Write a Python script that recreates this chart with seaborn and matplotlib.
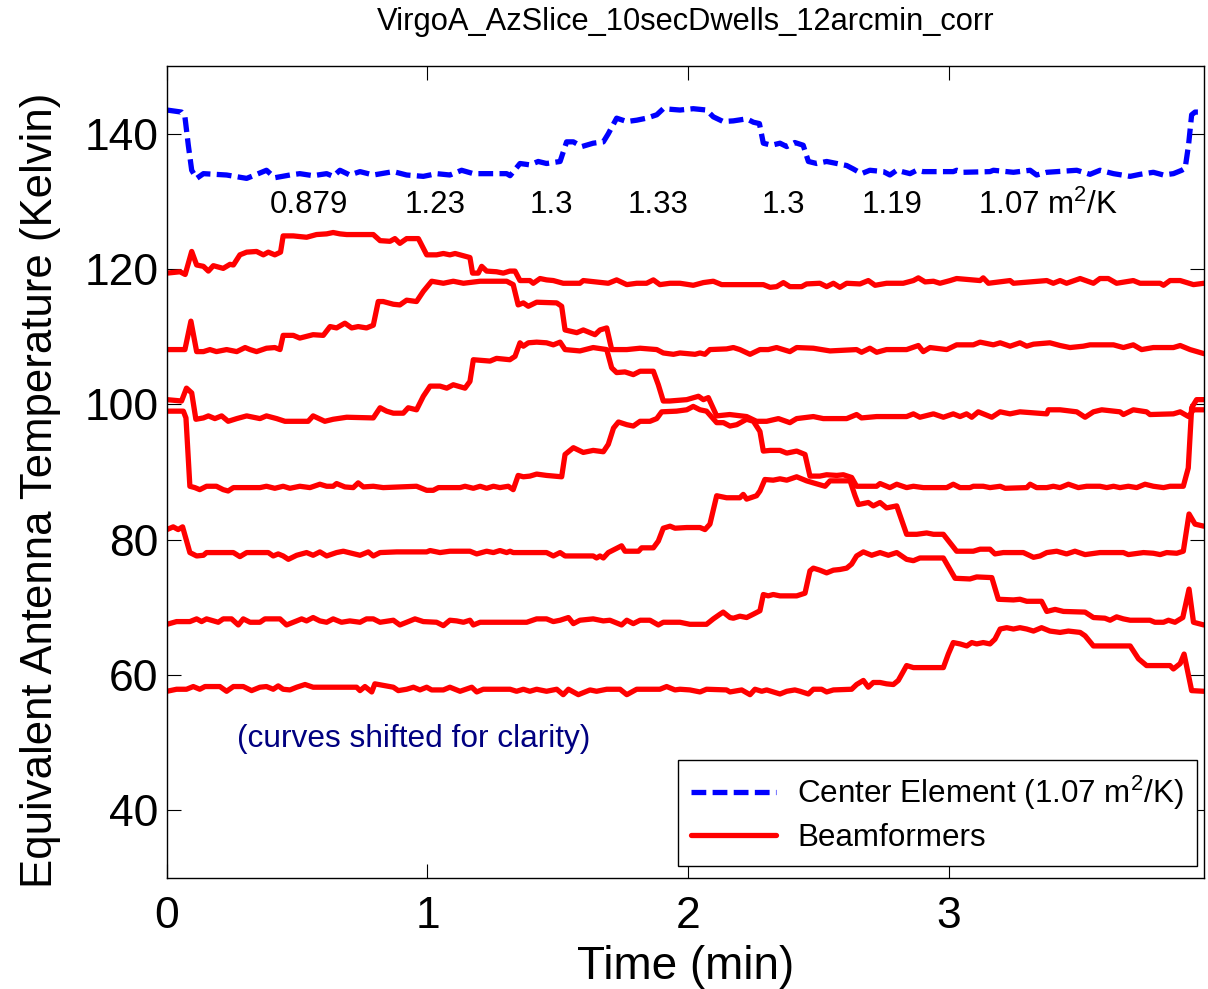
import matplotlib
matplotlib.use("Agg")
import matplotlib.pyplot as plt
from matplotlib.lines import Line2D
import seaborn as sns
import pandas as pd

# ---------------- data (time in min, temperature in K) ----------------
center_element = [(0, 143.5), (0.056, 143.2), (0.069, 142.5), (0.082, 138.3), (0.095, 134.6), (0.114, 133.4),
    (0.14, 134.1), (0.229, 133.9), (0.306, 133.4), (0.338, 133.9), (0.382, 134.6), (0.414, 133.5), (0.472, 133.9),
    (0.51, 134.1), (0.561, 133.8), (0.613, 134.1), (0.638, 133.7), (0.664, 134.6), (0.702, 133.9), (0.741, 134.4),
    (0.792, 133.9), (0.869, 134.4), (0.92, 133.9), (0.984, 133.7), (1.035, 134.1), (1.086, 133.9), (1.131, 134.6),
    (1.176, 134.1), (1.304, 134.1), (1.317, 133.8), (1.355, 135.6), (1.393, 135.4), (1.425, 135.9), (1.457, 135.6),
    (1.509, 135.9), (1.521, 137.3), (1.534, 138.8), (1.56, 138.8), (1.592, 138.1), (1.636, 138.6), (1.675, 138.8),
    (1.694, 140.0), (1.726, 142.3), (1.765, 141.8), (1.803, 142.0), (1.841, 142.3), (1.88, 142.8), (1.905, 143.7),
    (1.969, 143.5), (2.02, 143.7), (2.071, 143.5), (2.097, 142.5), (2.135, 141.8), (2.174, 141.9), (2.225, 142.2),
    (2.251, 141.7), (2.274, 141.5), (2.289, 138.6), (2.321, 138.3), (2.353, 138.6), (2.379, 138.1), (2.41, 138.7),
    (2.442, 138.3), (2.462, 135.9), (2.494, 135.6), (2.532, 135.9), (2.571, 135.6), (2.609, 135.3), (2.634, 134.8),
    (2.666, 134.1), (2.698, 134.6), (2.75, 134.4), (2.775, 133.9), (2.801, 134.6), (2.852, 134.1), (2.878, 134.6),
    (2.903, 134.4), (3.018, 134.4), (3.031, 134.6), (3.057, 134.3), (3.159, 134.4), (3.172, 134.6), (3.249, 134.3),
    (3.313, 134.6), (3.338, 133.9), (3.377, 134.3), (3.492, 134.6), (3.543, 134.0), (3.581, 134.6), (3.633, 134.1),
    (3.697, 133.7), (3.735, 134.0), (3.786, 134.3), (3.825, 133.9), (3.863, 134.1), (3.895, 134.6), (3.908, 134.9),
    (3.921, 138.3), (3.933, 142.8), (3.946, 143.2), (3.98, 143.2)]

beam1 = [(0, 119.4), (0.05, 119.6), (0.07, 119.2), (0.095, 122.6), (0.114, 120.6), (0.14, 120.4), (0.159, 119.7),
    (0.178, 120.5), (0.216, 120.1), (0.242, 120.7), (0.255, 120.6), (0.28, 122.1), (0.306, 122.5), (0.344, 122.6),
    (0.37, 122.1), (0.389, 122.5), (0.414, 122.1), (0.436, 122.5), (0.446, 124.9), (0.485, 124.9), (0.51, 124.8),
    (0.536, 124.7), (0.574, 125.1), (0.613, 125.2), (0.638, 125.4), (0.664, 125.2), (0.69, 125.1), (0.792, 125.1),
    (0.818, 124.2), (0.856, 124.1), (0.875, 124.5), (0.894, 123.8), (0.92, 124.5), (0.965, 124.5), (0.997, 122.1),
    (1.035, 122.1), (1.061, 122.3), (1.086, 122.1), (1.106, 122.3), (1.125, 122.1), (1.163, 121.7), (1.173, 119.4),
    (1.195, 119.4), (1.208, 120.4), (1.227, 119.7), (1.265, 119.6), (1.291, 119.4), (1.316, 119.7), (1.336, 119.7),
    (1.355, 118.3), (1.393, 118.3), (1.406, 117.9), (1.432, 118.6), (1.457, 118.4), (1.483, 118.3), (1.521, 117.9),
    (1.585, 117.9), (1.598, 118.3), (1.694, 117.9), (1.726, 118.4), (1.765, 117.7), (1.803, 117.9), (1.841, 117.9),
    (1.867, 118.4), (1.892, 117.7), (1.931, 117.9), (1.969, 117.9), (2.02, 117.6), (2.059, 118.0), (2.097, 118.2),
    (2.129, 117.7), (2.289, 117.7), (2.315, 117.3), (2.34, 117.4), (2.366, 118.0), (2.391, 117.4), (2.436, 117.4),
    (2.455, 117.8), (2.506, 117.9), (2.532, 117.4), (2.558, 117.9), (2.583, 117.3), (2.609, 117.9), (2.66, 117.8),
    (2.692, 118.3), (2.718, 117.6), (2.762, 117.9), (2.826, 117.9), (2.865, 118.3), (2.884, 118.7), (2.91, 118.1),
    (2.942, 118.2), (2.967, 117.9), (3.006, 118.3), (3.031, 118.6), (3.121, 118.3), (3.133, 118.7), (3.153, 117.9),
    (3.236, 118.3), (3.249, 117.9), (3.377, 118.3), (3.402, 117.9), (3.428, 118.3), (3.453, 117.9), (3.505, 118.6),
    (3.556, 117.9), (3.581, 118.6), (3.613, 118.6), (3.645, 117.9), (3.709, 118.3), (3.735, 117.9), (3.812, 117.9),
    (3.825, 117.6), (3.85, 118.3), (3.889, 118.3), (3.94, 117.7), (3.98, 117.9)]

beam2 = [(0, 108.1), (0.069, 108.1), (0.092, 112.3), (0.114, 107.8), (0.14, 107.8), (0.165, 108.1), (0.19, 107.8),
    (0.229, 108.1), (0.268, 107.8), (0.3, 108.4), (0.319, 108.1), (0.344, 107.8), (0.382, 108.3), (0.414, 108.4),
    (0.434, 108.1), (0.446, 110.2), (0.485, 110.2), (0.51, 109.8), (0.561, 110.3), (0.6, 110.2), (0.626, 111.5),
    (0.651, 111.3), (0.683, 112.0), (0.709, 111.3), (0.734, 111.5), (0.766, 111.3), (0.792, 111.7), (0.811, 115.2),
    (0.83, 115.2), (0.869, 114.8), (0.894, 114.7), (0.92, 115.4), (0.958, 115.2), (0.984, 116.7), (1.016, 118.2),
    (1.061, 117.9), (1.099, 118.2), (1.138, 117.9), (1.202, 118.2), (1.304, 118.2), (1.329, 117.7), (1.348, 114.7),
    (1.368, 115.0), (1.387, 114.5), (1.419, 115.1), (1.496, 115.0), (1.515, 114.5), (1.528, 111.0), (1.573, 110.6),
    (1.598, 111.0), (1.643, 110.3), (1.662, 111.0), (1.688, 111.3), (1.707, 108.1), (1.765, 108.1), (1.816, 108.3),
    (1.88, 108.1), (1.905, 107.6), (1.944, 107.4), (1.969, 107.6), (2.027, 107.4), (2.046, 107.6), (2.065, 107.4),
    (2.084, 108.1), (2.148, 108.2), (2.174, 108.4), (2.199, 108.1), (2.238, 107.4), (2.276, 108.1), (2.308, 108.1),
    (2.34, 108.4), (2.391, 107.8), (2.417, 108.4), (2.481, 108.3), (2.545, 107.9), (2.647, 108.1), (2.666, 107.7),
    (2.698, 108.3), (2.724, 107.7), (2.762, 108.1), (2.839, 108.1), (2.884, 108.7), (2.903, 107.8), (2.929, 108.4),
    (2.993, 108.1), (3.031, 108.8), (3.095, 108.8), (3.121, 109.2), (3.172, 108.8), (3.198, 109.1), (3.236, 108.6),
    (3.274, 109.1), (3.3, 108.6), (3.326, 108.9), (3.389, 109.1), (3.428, 108.7), (3.466, 108.4), (3.517, 108.6),
    (3.543, 108.8), (3.633, 108.8), (3.671, 108.4), (3.709, 108.8), (3.741, 108.1), (3.786, 108.4), (3.863, 108.4),
    (3.889, 108.7), (3.927, 108.1), (3.98, 107.5)]

beam3 = [(0, 100.7), (0.056, 100.5), (0.075, 102.4), (0.095, 101.7), (0.111, 97.8), (0.14, 98.0), (0.159, 98.3),
    (0.184, 97.9), (0.21, 98.3), (0.235, 97.5), (0.268, 97.9), (0.306, 98.3), (0.357, 97.9), (0.382, 98.3),
    (0.421, 97.9), (0.453, 97.5), (0.542, 97.5), (0.561, 98.3), (0.606, 97.5), (0.638, 97.8), (0.69, 98.1),
    (0.792, 98.0), (0.818, 99.5), (0.843, 99.0), (0.869, 98.7), (0.907, 98.7), (0.926, 99.5), (0.958, 99.2),
    (0.984, 101.2), (1.01, 102.7), (1.048, 102.7), (1.074, 102.4), (1.099, 102.9), (1.144, 102.4), (1.163, 103.4),
    (1.176, 106.6), (1.24, 106.4), (1.265, 106.8), (1.316, 106.6), (1.336, 107.1), (1.355, 109.1), (1.368, 108.6),
    (1.387, 109.1), (1.419, 109.2), (1.457, 109.1), (1.483, 108.8), (1.509, 109.2), (1.528, 108.1), (1.585, 107.9),
    (1.636, 108.4), (1.688, 108.1), (1.707, 105.4), (1.726, 104.7), (1.758, 104.8), (1.79, 104.4), (1.816, 104.9),
    (1.867, 104.9), (1.886, 102.9), (1.905, 100.5), (1.93, 100.5), (1.995, 100.7), (2.04, 101.2), (2.059, 100.7),
    (2.078, 101.0), (2.11, 98.3), (2.16, 98.5), (2.225, 98.2), (2.263, 97.5), (2.302, 97.5), (2.347, 97.9),
    (2.391, 97.3), (2.417, 97.9), (2.481, 98.2), (2.519, 97.9), (2.609, 97.9), (2.647, 98.5), (2.666, 98.0),
    (2.724, 98.2), (2.839, 98.2), (2.865, 98.6), (2.89, 98.1), (2.942, 98.6), (2.98, 98.1), (3.018, 98.6),
    (3.044, 98.2), (3.069, 98.6), (3.089, 98.1), (3.114, 98.9), (3.166, 98.1), (3.198, 98.9), (3.236, 98.6),
    (3.274, 98.9), (3.377, 98.6), (3.383, 99.2), (3.428, 99.2), (3.492, 98.9), (3.524, 98.1), (3.556, 98.9),
    (3.588, 99.2), (3.658, 98.9), (3.671, 98.5), (3.709, 99.2), (3.76, 98.9), (3.773, 98.5), (3.863, 98.6),
    (3.889, 98.9), (3.921, 98.2), (3.94, 99.2), (3.98, 99.2)]

beam4 = [(0, 99.0), (0.063, 99.0), (0.073, 98.0), (0.088, 87.9), (0.107, 87.7), (0.126, 87.4), (0.152, 87.9),
    (0.19, 87.9), (0.216, 87.4), (0.235, 87.2), (0.255, 87.7), (0.357, 87.7), (0.382, 87.9), (0.414, 87.6),
    (0.446, 87.9), (0.472, 87.6), (0.51, 87.9), (0.549, 87.7), (0.587, 88.2), (0.613, 87.9), (0.638, 87.9),
    (0.651, 88.3), (0.683, 87.8), (0.715, 87.7), (0.734, 88.4), (0.754, 87.8), (0.792, 87.9), (0.83, 87.7),
    (0.958, 87.9), (0.997, 87.3), (1.022, 87.3), (1.042, 87.7), (1.125, 87.7), (1.144, 87.9), (1.176, 87.6),
    (1.202, 87.9), (1.227, 87.6), (1.253, 87.9), (1.278, 87.7), (1.31, 87.9), (1.329, 87.4), (1.348, 89.5),
    (1.368, 89.3), (1.393, 89.4), (1.419, 89.7), (1.457, 89.5), (1.515, 89.3), (1.528, 92.6), (1.56, 93.6),
    (1.598, 92.9), (1.636, 93.2), (1.675, 93.0), (1.694, 94.1), (1.714, 96.5), (1.733, 97.4), (1.765, 97.0),
    (1.79, 96.8), (1.816, 97.5), (1.854, 97.5), (1.88, 97.9), (1.899, 98.9), (1.956, 99.0), (1.995, 99.2),
    (2.02, 99.7), (2.046, 99.2), (2.071, 99.0), (2.11, 97.3), (2.136, 97.3), (2.161, 96.8), (2.187, 97.0),
    (2.225, 97.8), (2.251, 97.5), (2.276, 96.0), (2.289, 93.1), (2.315, 93.2), (2.353, 93.2), (2.379, 92.8),
    (2.417, 93.1), (2.449, 92.6), (2.468, 89.4), (2.506, 89.4), (2.532, 89.6), (2.571, 89.5), (2.596, 89.6),
    (2.628, 89.2), (2.647, 87.9), (2.724, 87.9), (2.737, 88.3), (2.775, 87.7), (2.801, 88.2), (2.839, 87.7),
    (2.865, 87.9), (2.903, 87.7), (2.993, 87.7), (3.018, 88.2), (3.044, 87.7), (3.082, 87.7), (3.095, 87.9),
    (3.133, 87.9), (3.159, 87.7), (3.198, 87.9), (3.217, 87.6), (3.3, 87.7), (3.313, 88.2), (3.338, 87.7),
    (3.377, 87.7), (3.402, 87.9), (3.428, 87.7), (3.46, 88.2), (3.498, 87.7), (3.53, 87.9), (3.581, 87.9),
    (3.607, 87.7), (3.633, 87.9), (3.658, 87.7), (3.69, 87.9), (3.722, 87.7), (3.754, 88.2), (3.786, 87.9),
    (3.825, 87.7), (3.85, 87.9), (3.901, 87.9), (3.92, 90.6), (3.933, 99.5), (3.952, 100.7), (3.98, 100.7)]

beam5 = [(0, 81.5), (0.024, 81.9), (0.043, 81.5), (0.06, 81.9), (0.088, 78.1), (0.114, 77.6), (0.14, 77.7),
    (0.152, 78.1), (0.255, 78.1), (0.28, 77.5), (0.306, 78.1), (0.389, 78.1), (0.408, 77.6), (0.427, 77.9),
    (0.446, 77.6), (0.466, 77.1), (0.498, 77.7), (0.536, 78.1), (0.561, 77.7), (0.587, 78.2), (0.613, 77.6),
    (0.651, 78.1), (0.677, 78.3), (0.741, 77.7), (0.773, 78.2), (0.792, 77.6), (0.818, 78.1), (0.882, 78.2),
    (0.997, 78.2), (1.01, 78.4), (1.048, 78.1), (1.086, 78.3), (1.163, 78.3), (1.189, 77.9), (1.227, 78.3),
    (1.253, 78.1), (1.278, 78.4), (1.304, 78.1), (1.317, 78.3), (1.329, 78.1), (1.457, 78.1), (1.483, 77.6),
    (1.509, 78.1), (1.528, 77.6), (1.636, 77.6), (1.649, 77.3), (1.662, 77.6), (1.675, 77.3), (1.694, 78.1),
    (1.745, 79.1), (1.758, 78.3), (1.81, 78.3), (1.822, 78.8), (1.867, 78.8), (1.886, 79.8), (1.905, 81.7),
    (1.931, 82.0), (1.95, 81.7), (1.995, 81.8), (2.046, 81.8), (2.065, 81.5), (2.084, 82.3), (2.11, 86.5),
    (2.148, 86.2), (2.199, 86.2), (2.212, 86.7), (2.225, 86.0), (2.263, 86.5), (2.276, 87.2), (2.295, 88.9),
    (2.327, 88.8), (2.353, 89.0), (2.379, 88.8), (2.417, 89.3), (2.455, 88.7), (2.481, 88.4), (2.526, 87.9),
    (2.545, 88.7), (2.622, 88.7), (2.641, 86.5), (2.654, 85.2), (2.692, 85.5), (2.711, 85.0), (2.737, 85.5),
    (2.762, 84.7), (2.801, 85.0), (2.839, 80.8), (2.878, 80.8), (2.916, 81.0), (2.942, 80.8), (2.98, 80.8),
    (3.031, 78.3), (3.095, 78.3), (3.121, 78.6), (3.159, 78.6), (3.178, 77.9), (3.21, 78.1), (3.287, 78.1),
    (3.326, 77.4), (3.351, 77.6), (3.377, 78.1), (3.415, 78.3), (3.453, 77.9), (3.485, 78.3), (3.524, 77.8),
    (3.581, 78.1), (3.671, 78.1), (3.69, 77.8), (3.748, 78.1), (3.786, 78.0), (3.812, 77.8), (3.837, 78.1),
    (3.876, 78.0), (3.901, 78.3), (3.923, 83.8), (3.946, 82.3), (3.98, 82.0)]

beam6 = [(0, 67.5), (0.037, 67.9), (0.088, 67.9), (0.114, 68.3), (0.133, 67.9), (0.152, 68.3), (0.197, 67.8),
    (0.216, 68.3), (0.248, 68.3), (0.274, 67.4), (0.293, 68.3), (0.319, 67.8), (0.357, 67.8), (0.376, 68.3),
    (0.434, 68.3), (0.459, 67.4), (0.498, 68.0), (0.517, 68.3), (0.536, 68.0), (0.561, 68.5), (0.587, 68.0),
    (0.613, 67.8), (0.638, 68.3), (0.67, 67.8), (0.702, 68.0), (0.741, 67.8), (0.766, 68.3), (0.792, 68.3),
    (0.818, 67.8), (0.869, 68.1), (0.894, 67.4), (0.92, 67.8), (0.952, 68.3), (0.984, 67.9), (1.035, 67.8),
    (1.061, 67.3), (1.086, 68.1), (1.112, 68.0), (1.138, 67.8), (1.163, 68.1), (1.176, 67.4), (1.202, 67.8),
    (1.381, 67.8), (1.419, 68.3), (1.457, 68.3), (1.483, 67.9), (1.509, 68.1), (1.541, 68.5), (1.56, 67.6),
    (1.585, 68.1), (1.636, 68.3), (1.675, 68.0), (1.7, 68.1), (1.745, 67.4), (1.765, 68.1), (1.79, 67.6),
    (1.816, 68.1), (1.854, 68.1), (1.886, 67.4), (1.905, 67.8), (1.969, 67.8), (2.007, 67.5), (2.071, 67.5),
    (2.097, 68.3), (2.123, 69.0), (2.135, 69.3), (2.161, 68.5), (2.174, 68.4), (2.199, 68.7), (2.225, 68.5),
    (2.251, 69.0), (2.276, 69.5), (2.289, 71.9), (2.308, 71.7), (2.327, 71.9), (2.353, 71.7), (2.417, 71.7),
    (2.449, 72.1), (2.468, 75.4), (2.481, 75.8), (2.506, 75.5), (2.532, 75.1), (2.558, 75.5), (2.583, 75.6),
    (2.609, 75.8), (2.628, 76.4), (2.647, 77.6), (2.673, 78.2), (2.705, 77.7), (2.737, 78.1), (2.769, 77.7),
    (2.801, 78.1), (2.839, 77.1), (2.865, 76.9), (2.89, 77.3), (2.942, 77.3), (2.98, 77.3), (3.025, 74.3),
    (3.082, 74.2), (3.108, 74.5), (3.166, 74.4), (3.191, 71.2), (3.249, 71.1), (3.274, 71.2), (3.3, 70.9),
    (3.357, 70.9), (3.377, 69.4), (3.409, 69.7), (3.441, 69.4), (3.524, 69.3), (3.556, 68.5), (3.6, 68.4),
    (3.62, 68.1), (3.645, 68.6), (3.671, 68.3), (3.697, 68.1), (3.773, 68.1), (3.792, 67.8), (3.825, 67.8),
    (3.844, 68.1), (3.869, 67.8), (3.899, 68.5), (3.923, 72.7), (3.94, 67.8), (3.98, 67.4)]

beam7 = [(0, 57.6), (0.037, 57.9), (0.075, 57.9), (0.101, 58.3), (0.126, 57.9), (0.146, 58.3), (0.203, 58.3),
    (0.229, 57.6), (0.255, 58.3), (0.293, 58.3), (0.325, 57.7), (0.357, 58.2), (0.382, 58.3), (0.408, 57.9),
    (0.427, 58.4), (0.446, 57.9), (0.472, 57.8), (0.498, 58.2), (0.53, 58.6), (0.561, 58.2), (0.728, 58.2),
    (0.741, 57.7), (0.76, 58.3), (0.786, 57.5), (0.798, 58.7), (0.869, 58.2), (0.888, 57.7), (0.92, 57.9),
    (0.946, 58.2), (0.971, 57.8), (0.997, 58.2), (1.016, 57.8), (1.061, 57.8), (1.086, 58.2), (1.125, 57.6),
    (1.17, 58.2), (1.189, 57.5), (1.214, 57.9), (1.317, 57.9), (1.342, 57.6), (1.368, 57.9), (1.393, 57.6),
    (1.419, 57.9), (1.457, 57.6), (1.496, 57.9), (1.521, 57.1), (1.541, 57.9), (1.579, 57.1), (1.624, 57.8),
    (1.649, 57.6), (1.688, 57.9), (1.739, 57.9), (1.765, 57.1), (1.803, 57.9), (1.892, 57.9), (1.918, 58.3),
    (1.95, 57.8), (1.969, 57.9), (2.007, 57.8), (2.046, 57.5), (2.071, 57.9), (2.148, 57.8), (2.161, 57.5),
    (2.206, 57.8), (2.238, 57.1), (2.257, 57.9), (2.283, 57.6), (2.302, 57.8), (2.353, 57.2), (2.379, 57.6),
    (2.41, 57.8), (2.43, 57.6), (2.462, 57.2), (2.481, 57.9), (2.513, 57.9), (2.532, 57.5), (2.558, 57.8),
    (2.628, 57.9), (2.647, 58.6), (2.673, 59.2), (2.692, 58.2), (2.711, 58.9), (2.737, 58.9), (2.762, 58.7),
    (2.788, 58.6), (2.807, 59.2), (2.839, 61.4), (2.865, 61.1), (2.98, 61.1), (2.999, 63.1), (3.018, 64.8),
    (3.044, 64.6), (3.07, 64.3), (3.089, 64.8), (3.108, 64.6), (3.133, 64.8), (3.159, 64.6), (3.178, 65.3),
    (3.198, 66.8), (3.223, 67.0), (3.249, 66.8), (3.274, 67.0), (3.3, 66.8), (3.326, 66.5), (3.357, 67.0),
    (3.389, 66.5), (3.428, 66.3), (3.46, 66.5), (3.505, 66.3), (3.524, 65.8), (3.556, 64.3), (3.697, 64.3),
    (3.729, 62.4), (3.76, 61.4), (3.85, 61.4), (3.863, 60.9), (3.889, 61.7), (3.904, 63.1), (3.933, 57.7),
    (3.98, 57.6)]

beams = [beam1, beam2, beam3, beam4, beam5, beam6, beam7]

aperture_labels = ["0.879", "1.23", "1.3", "1.33", "1.3", "1.19", "1.07 m$^2$/K"]
aperture_label_t = [0.395, 0.914, 1.393, 1.77, 2.284, 2.668, 3.113]
aperture_label_T = 129.45

title = "VirgoA_AzSlice_10secDwells_12arcmin_corr"
x_ticks = [0, 1, 2, 3]
y_ticks = [40, 60, 80, 100, 120, 140]

# ---------------- style ----------------
sns.set_style("ticks")
plt.rcParams["font.family"] = ["Liberation Sans", "DejaVu Sans"]
plt.rcParams["mathtext.fontset"] = "custom"
plt.rcParams["mathtext.rm"] = "Liberation Sans"
plt.rcParams["mathtext.default"] = "regular"
plt.rcParams["text.color"] = "black"
plt.rcParams["axes.labelcolor"] = "black"
plt.rcParams["xtick.color"] = "black"
plt.rcParams["ytick.color"] = "black"

rows = []
for i, b in enumerate(beams):
    for t, T in b:
        rows.append({"time": t, "temp": T, "beam": i})
df_beams = pd.DataFrame(rows)
df_center = pd.DataFrame(center_element, columns=["time", "temp"])

fig = plt.figure(figsize=(12.08, 9.89), dpi=100)
ax = fig.add_axes([0.1382, 0.1122, 0.8584, 0.821])

LW = 3.8
DASH = (0, (2.8, 1.2))
sns.lineplot(data=df_beams, x="time", y="temp", units="beam", estimator=None, sort=False,
             color=(1, 0, 0), lw=LW, ax=ax, legend=False)
sns.lineplot(data=df_center, x="time", y="temp", estimator=None, sort=False,
             color=(0, 0, 1), lw=LW, linestyle=DASH, ax=ax, legend=False)

ax.set_xlim(0, 3.98)
ax.set_ylim(30, 150)
ax.set_xticks(x_ticks)
ax.set_yticks(y_ticks)
ax.set_xticklabels([str(v) for v in x_ticks])
ax.set_yticklabels([str(v) for v in y_ticks])
ax.tick_params(direction="in", length=10, width=0.8, top=True, right=True, labelsize=32,
               colors="black", labelcolor="black")
ax.tick_params(axis="y", pad=6)
ax.tick_params(axis="x", pad=13)
for s in ax.spines.values():
    s.set_linewidth(1.0)
    s.set_color("black")

ax.set_xlabel("Time (min)", fontsize=33, labelpad=6, color="black")
ax.set_ylabel("Equivalent Antenna Temperature (Kelvin)", fontsize=31.5, color="black")
ax.yaxis.set_label_coords(-0.102, 0.478)
ax.set_title(title, fontsize=22.2, pad=26, color="black")

for lab, t in zip(aperture_labels, aperture_label_t):
    ax.text(t, aperture_label_T, lab, fontsize=22.5, ha="left", va="center", color="black")

ax.text(0.269, 50.6, "(curves shifted for clarity)", fontsize=22.8, ha="left", va="center", color=(0, 0, 0.5))

handles = [Line2D([0], [0], color=(0, 0, 1), lw=LW, linestyle=DASH),
           Line2D([0], [0], color=(1, 0, 0), lw=LW)]
leg = ax.legend(handles, ["Center Element (1.07 m$^2$/K)", "Beamformers"], loc="lower right",
                bbox_to_anchor=(0.993, 0.0148), borderaxespad=0, fontsize=22.6, frameon=True,
                fancybox=False, framealpha=1, edgecolor="black", handlelength=2.7, handletextpad=0.68,
                labelspacing=0.36, borderpad=0.42)
leg.get_frame().set_linewidth(1.0)
for txt in leg.get_texts():
    txt.set_color("black")

fig.savefig("out.png", dpi=100)
